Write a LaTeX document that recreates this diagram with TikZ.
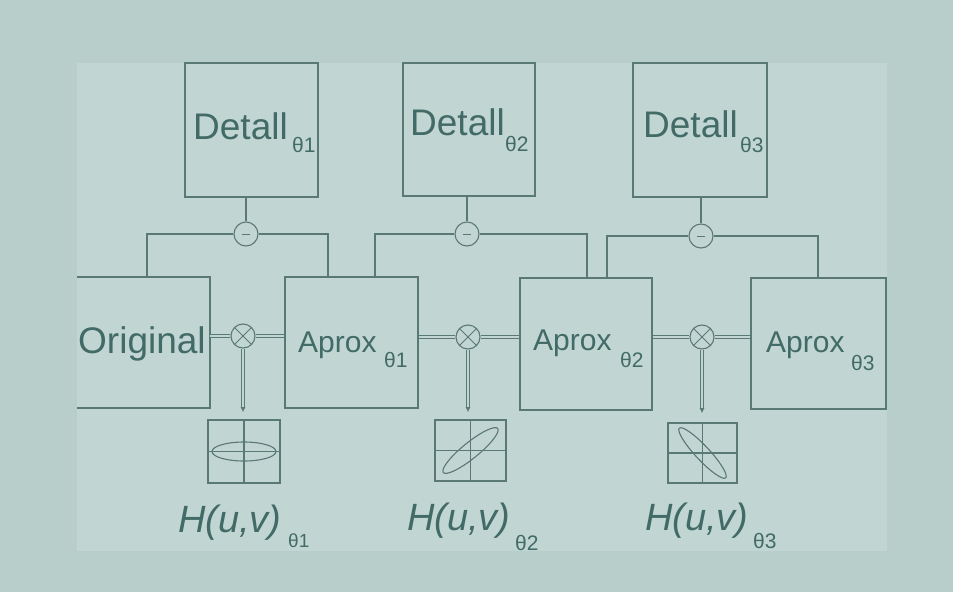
\documentclass[tikz,border=0pt]{standalone}
\usepackage{fontspec}
\setmainfont{Liberation Sans}
\usetikzlibrary{arrows.meta}
\definecolor{bgouter}{RGB}{184,206,202}
\definecolor{bginner}{RGB}{193,214,211}
\definecolor{linec}{RGB}{90,120,116}
\definecolor{textc}{RGB}{66,106,102}
\tikzset{
  boxline/.style={draw=linec, line width=1.7pt},
  blk/.style={boxline, rectangle, inner sep=0pt},
  rawblk/.style={rectangle, inner sep=0pt},
  opc/.style={draw=linec, line width=1.1pt, circle, inner sep=0pt, minimum size=24pt},
  conn/.style={draw=linec, line width=1.4pt},
  dconn/.style={draw=linec, line width=0.8pt, double=bginner, double distance=2.2pt},
  big/.style={anchor=base west, inner sep=0pt, text=textc, font=\fontsize{37}{40}\selectfont},
  mid/.style={anchor=base west, inner sep=0pt, text=textc, font=\fontsize{30}{34}\selectfont},
  hlab/.style={anchor=base west, inner sep=0pt, text=textc, font=\fontsize{38}{40}\selectfont\itshape},
  sub/.style={anchor=base west, inner sep=0pt, text=textc, font=\fontsize{21}{24}\selectfont},
  thin/.style={draw=linec, line width=1.1pt}
}
\begin{document}
\begin{tikzpicture}[x=1pt,y=-1pt]
\useasboundingbox (0,0) rectangle (953,592);
\fill[bgouter] (0,0) rectangle (953,592);
\fill[bginner] (77,63) rectangle (887,551);

% detail boxes
\node[blk, minimum width=133pt, minimum height=134pt] (det1) at (251.5,130) {};
\node[blk, minimum width=132pt, minimum height=133pt] (det2) at (469,129.5) {};
\node[blk, minimum width=134pt, minimum height=134pt] (det3) at (700,130) {};
\node[big] (det1t) at (193,139) {Detall};
\node[sub] (det1s) at (292,152) {θ1};
\node[big] (det2t) at (410,135) {Detall};
\node[sub] (det2s) at (505,151) {θ2};
\node[big] (det3t) at (643,137) {Detall};
\node[sub] (det3s) at (740,152) {θ3};

% main row
\node[rawblk, minimum width=133pt, minimum height=131pt] (orig) at (143.5,342.5) {};
\draw[boxline] (orig.north west) -- (orig.north east) -- (orig.south east) -- (orig.south west);
\node[blk, minimum width=133pt, minimum height=131pt] (ap1) at (351.5,342.5) {};
\node[blk, minimum width=132pt, minimum height=132pt] (ap2) at (586,344) {};
\node[blk, minimum width=135pt, minimum height=131pt] (ap3) at (818.5,343.5) {};
\node[big] (origt) at (78,353) {Original};
\node[mid] (ap1t) at (298,352) {Aprox};
\node[sub] (ap1s) at (384,367) {θ1};
\node[mid] (ap2t) at (533,350) {Aprox};
\node[sub] (ap2s) at (620,367) {θ2};
\node[mid] (ap3t) at (766,352) {Aprox};
\node[sub] (ap3s) at (851,370) {θ3};

% minus circles
\node[opc] (m1) at (246,234) {};
\node[opc] (m2) at (467,234) {};
\node[opc] (m3) at (701,236) {};
\foreach \m in {m1,m2,m3}{
  \draw[linec, line width=0.8pt] ([xshift=-4pt]\m.center) -- ([xshift=4pt]\m.center);
}
% times circles
\node[opc] (x1) at (243,336) {};
\node[opc] (x2) at (468,337) {};
\node[opc] (x3) at (702,337) {};
\foreach \m in {x1,x2,x3}{
  \draw[linec, line width=0.9pt] (\m.north west) -- (\m.south east);
  \draw[linec, line width=0.9pt] (\m.north east) -- (\m.south west);
}

% filter boxes
\node[blk, minimum width=72pt, minimum height=63pt] (h1) at (244,451.5) {};
\node[blk, minimum width=71pt, minimum height=61pt] (h2) at (470.5,450.5) {};
\node[blk, minimum width=69pt, minimum height=60pt] (h3) at (702.5,453) {};
\draw[thin] (h1.north) -- (h1.south);
\draw[thin, line width=0.6pt] (h1.west) -- (h1.east);
\draw[thin] (h1.center) ellipse (32pt and 9.5pt);
\draw[thin] (h2.north) -- (h2.south);
\draw[thin] (h2.west) -- (h2.east);
\draw[thin, shift={(h2.center)}, rotate=39] (0,0) ellipse (35pt and 8pt);
\draw[thin, line width=0.5pt] (h3.north) -- (h3.south);
\draw[thin] (h3.west) -- (h3.east);
\draw[thin, shift={(h3.center)}, rotate=-47] (0,0) ellipse (34pt and 7pt);

\node[hlab] (h1t) at (178,532) {H(u,v)};
\node[sub, font=\fontsize{19}{22}\selectfont] (h1s) at (288,547) {θ1};
\node[hlab] (h2t) at (407,530) {H(u,v)};
\node[sub] (h2s) at (515,550) {θ2};
\node[hlab] (h3t) at (645,530) {H(u,v)};
\node[sub] (h3s) at (753,548) {θ3};

% top connectors
\coordinate (a1) at (147,234);
\coordinate (b1) at (328,234);
\coordinate (a2) at (375,234);
\coordinate (b2) at (587,234);
\coordinate (a3) at (607,236);
\coordinate (b3) at (818,236);
\draw[conn] (m1 |- det1.south) -- (m1.north);
\draw[conn] (m2 |- det2.south) -- (m2.north);
\draw[conn] (m3 |- det3.south) -- (m3.north);
\draw[conn] (m1.west) -- (a1) -- (a1 |- orig.north);
\draw[conn] (m1.east) -- (b1) -- (b1 |- ap1.north);
\draw[conn] (m2.west) -- (a2) -- (a2 |- ap1.north);
\draw[conn] (m2.east) -- (b2) -- (b2 |- ap2.north);
\draw[conn] (m3.west) -- (a3) -- (a3 |- ap2.north);
\draw[conn] (m3.east) -- (b3) -- (b3 |- ap3.north);

% horizontal connectors
\draw[dconn] (orig.east |- x1) -- (x1.west);
\draw[dconn] (x1.east) -- (ap1.west |- x1);
\draw[dconn] (ap1.east |- x2) -- (x2.west);
\draw[dconn] (x2.east) -- (ap2.west |- x2);
\draw[dconn] (ap2.east |- x3) -- (x3.west);
\draw[dconn] (x3.east) -- (ap3.west |- x3);

% down connectors
\draw[dconn, -{Latex[length=5pt,width=5pt]}, shorten >=7pt] (x1.south) -- (x1 |- h1.north);
\draw[dconn, -{Latex[length=5pt,width=5pt]}, shorten >=7pt] (x2.south) -- (x2 |- h2.north);
\draw[dconn, -{Latex[length=5pt,width=5pt]}, shorten >=9pt] (x3.south) -- (x3 |- h3.north);
\end{tikzpicture}
\end{document}
